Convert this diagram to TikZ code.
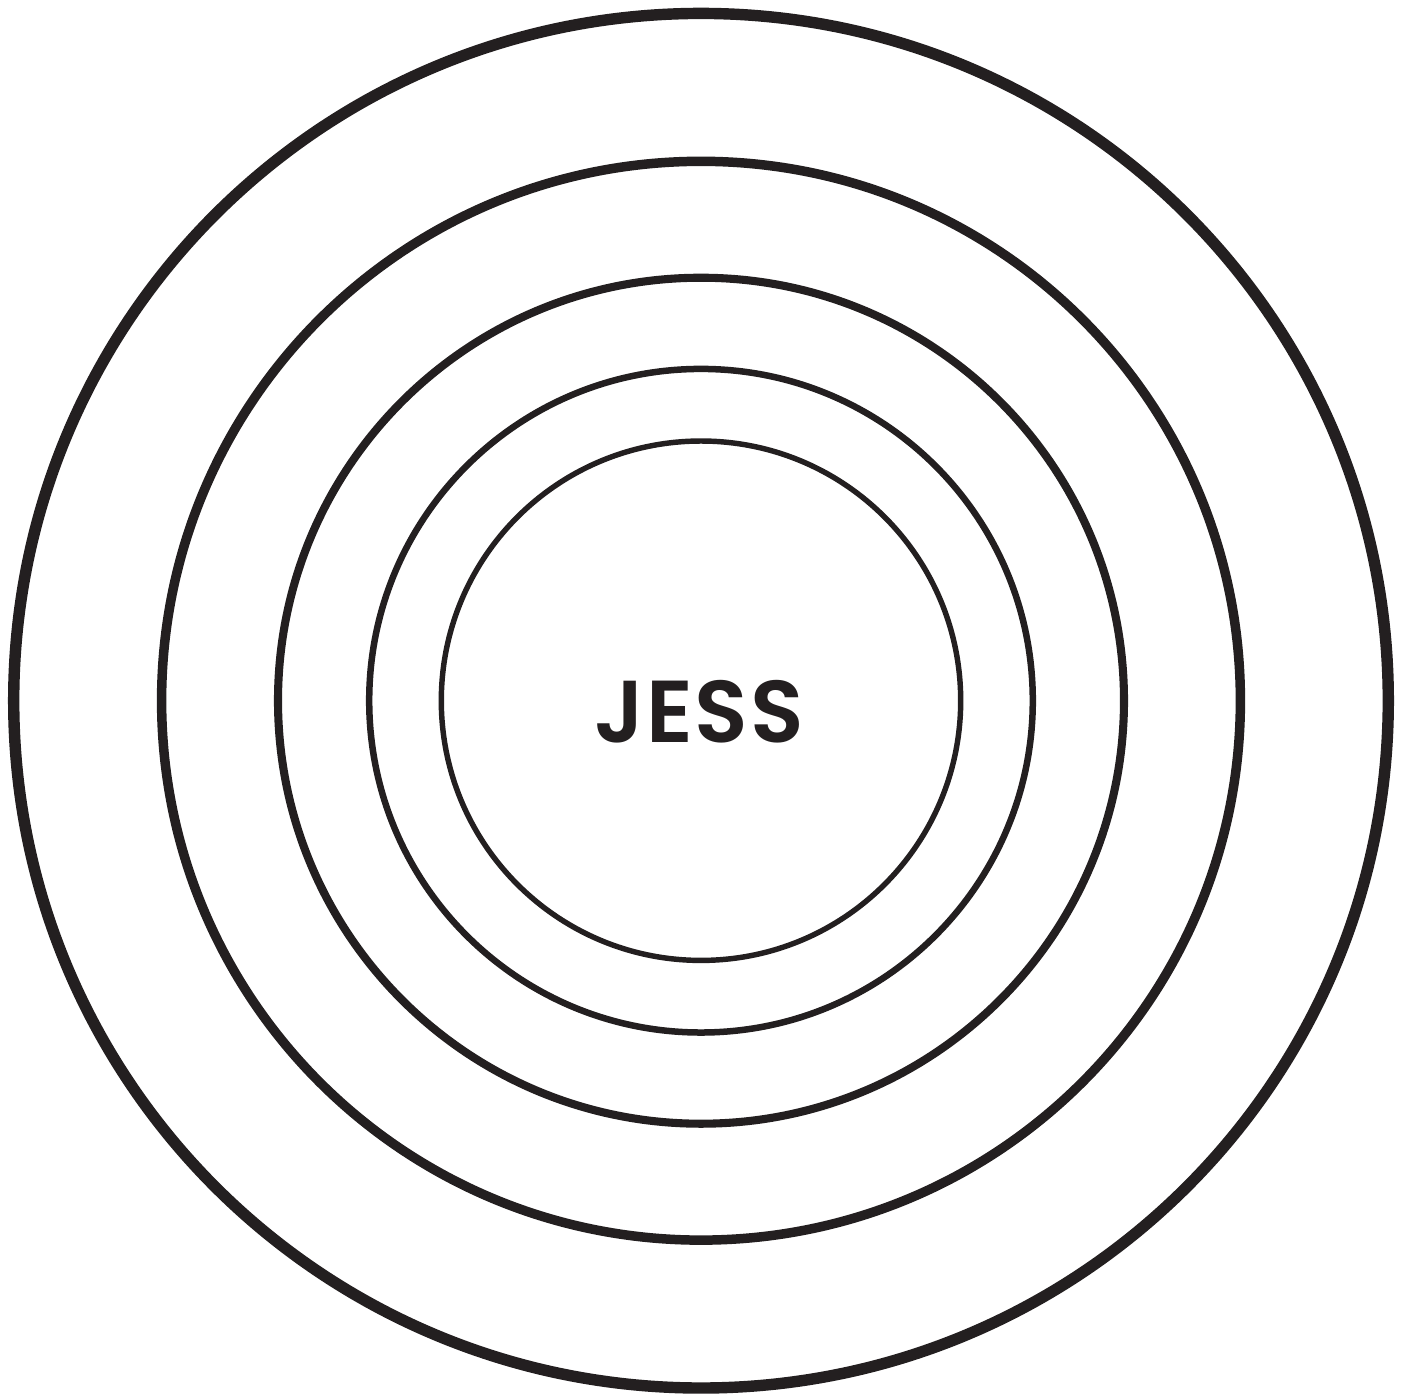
\documentclass[tikz,border=0pt]{standalone}
\usepackage{fontspec}
\setsansfont{Poppins}[BoldFont={* SemiBold},LetterSpace=2]
\definecolor{ink}{HTML}{231F20}

\begin{document}
\begin{tikzpicture}[
  ring/.style={draw=ink},
  lbl/.style={font=\sffamily\bfseries\fontsize{25}{30}\selectfont,text=ink,inner sep=0pt}]
\useasboundingbox (0,0) rectangle (14.08,-13.93);
\coordinate (c) at (7.01,-7.007);

\draw[ring,line width=3.25pt](c) circle (6.873);
\draw[ring,line width=2.7pt](c) circle (5.394);
\draw[ring,line width=2.3pt](c) circle (4.230);
\draw[ring,line width=1.85pt](c) circle (3.318);
\draw[ring,line width=1.55pt](c) circle (2.597);

\node[lbl,anchor=base](jess) at (6.99,-7.427){JESS};
\end{tikzpicture}
\end{document}
